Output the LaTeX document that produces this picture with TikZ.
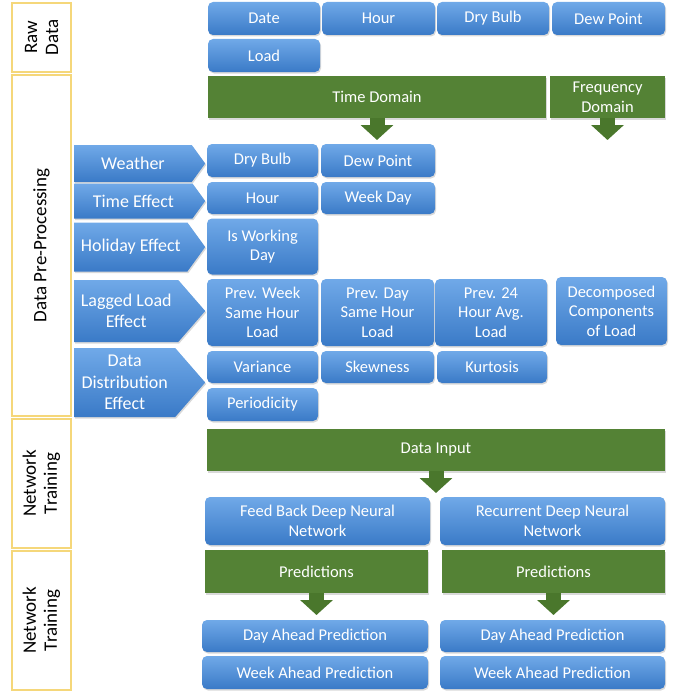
\documentclass[tikz,border=0pt]{standalone}
\usepackage{fontspec}
\setmainfont{Carlito}
\usetikzlibrary{shapes.symbols,arrows.meta,shadows,positioning}
\definecolor{boxtop}{HTML}{70A9E8}
\definecolor{boxbot}{HTML}{3A7AC7}
\definecolor{bargreen}{HTML}{548235}
\definecolor{arrowgreen}{HTML}{4A772C}
\definecolor{panelline}{HTML}{F5D77A}

\begin{document}
\begin{tikzpicture}[x=1pt, y=-1pt]
    \tikzstyle{panel} = [rectangle, draw=panelline, line width=1.2pt, fill=white, rotate=90, align=center, inner sep=0pt, font=\fontsize{19}{21}\selectfont]
    \tikzstyle{field} = [rectangle, rounded corners=5pt, top color=boxtop, bottom color=boxbot, draw=none, text=white, align=center, inner sep=0pt, drop shadow={shadow xshift=1pt, shadow yshift=-1.5pt, opacity=0.3}, font=\fontsize{16.5}{19.5}\selectfont]
    \tikzstyle{effect} = [signal, signal to=east, signal pointer angle=108, top color=boxtop, bottom color=boxbot, draw=none, text=white, align=center, inner sep=0pt, anchor=west, minimum width=131pt, drop shadow={shadow xshift=1pt, shadow yshift=-1.5pt, opacity=0.3}, font=\fontsize{18}{21.5}\selectfont]
    \tikzstyle{bar} = [rectangle, fill=bargreen, text=white, align=center, inner sep=0pt, minimum height=42pt, drop shadow={shadow xshift=1pt, shadow yshift=-1.5pt, opacity=0.3}, font=\fontsize{16.5}{20}\selectfont]
    \tikzstyle{blockarrow} = [arrowgreen, line width=15pt, -{Triangle[width=32pt, length=15pt]}]

    \useasboundingbox (0,0) rectangle (680,693);

    % Stages
    \node [panel, minimum width=69pt, minimum height=59pt] (rawpanel) at (41.5,37.5) {Raw\\Data};
    \node [panel, minimum width=341pt, minimum height=59pt] (prepanel) at (41.5,245.5) {Data Pre-Processing};
    \node [panel, minimum width=129pt, minimum height=59pt] (trainpanel) at (41.5,483.5) {Network\\Training};
    \node [panel, minimum width=139pt, minimum height=59pt] (predpanel) at (41.5,620.5) {Network\\Training};

    % Raw data
    \node [field, minimum width=112pt, minimum height=33pt] (date) at (264,18.5) {Date};
    \node [field, minimum width=113pt, minimum height=33pt] (hour) at (378.5,18.5) {Hour};
    \node [field, minimum width=112pt, minimum height=33pt] (drybulb) at (493,18.5) {Dry Bulb};
    \node [field, minimum width=113pt, minimum height=33pt] (dewpoint) at (608.5,18.5) {Dew Point};
    \node [field, minimum width=112pt, minimum height=33pt] (load) at (264,55.5) {Load};

    % Domains
    \node [bar, minimum width=338pt] (timedom) at (377,97) {Time Domain};
    \node [bar, minimum width=115pt] (freqdom) at (607.5,97) {Frequency\\Domain};
    \coordinate (timetip) at (377,140);
    \coordinate (freqtip) at (607.5,140);

    % Effects
    \node [effect, minimum height=37pt] (weather) at (74,163.5) {Weather};
    \node [effect, minimum height=35pt] (timeeff) at (74,201) {Time Effect};
    \node [effect, minimum height=49pt] (holiday) at (74,247) {Holiday Effect};
    \node [effect, minimum height=62pt, signal pointer angle=98] (lagged) at (74,311) {Lagged Load\\Effect};
    \node [effect, minimum height=69pt, signal pointer angle=98] (distrib) at (74,382.5) {Data\\Distribution\\Effect};

    % Features
    \node [field, minimum width=111pt, minimum height=33pt] (wdrybulb) at (262.5,160.5) {Dry Bulb};
    \node [field, minimum width=114pt, minimum height=33pt] (wdewpoint) at (378,160.5) {Dew Point};
    \node [field, minimum width=111pt, minimum height=32pt] (thour) at (262.5,198) {Hour};
    \node [field, minimum width=114pt, minimum height=32pt] (tweekday) at (378,198) {Week Day};
    \node [field, minimum width=111pt, minimum height=56pt] (hworking) at (262.5,246.5) {Is Working\\Day};
    \node [field, minimum width=111pt, minimum height=67pt] (lprevweek) at (262.5,312.5) {Prev. Week\\Same Hour\\Load};
    \node [field, minimum width=113pt, minimum height=67pt] (lprevday) at (377.5,312.5) {Prev. Day\\Same Hour\\Load};
    \node [field, minimum width=112pt, minimum height=67pt] (lprevavg) at (491,312.5) {Prev. 24\\Hour Avg.\\Load};
    \node [field, minimum width=111pt, minimum height=68pt] (ldecomp) at (611.5,311) {Decomposed\\Components\\of Load};
    \node [field, minimum width=111pt, minimum height=32pt] (dvariance) at (262.5,367) {Variance};
    \node [field, minimum width=113pt, minimum height=32pt] (dskewness) at (377.5,367) {Skewness};
    \node [field, minimum width=110pt, minimum height=32pt] (dkurtosis) at (492,367) {Kurtosis};
    \node [field, minimum width=111pt, minimum height=33pt] (dperiodicity) at (262.5,404.5) {Periodicity};

    % Training
    \node [bar, minimum width=458pt] (datainput) at (436,450) {Data Input};
    \coordinate (inputtip) at (436,493);
    \node [field, minimum width=225pt, minimum height=48pt] (ffdnn) at (317.5,521) {Feed Back Deep Neural\\Network};
    \node [field, minimum width=225pt, minimum height=48pt] (rdnn) at (552.5,521) {Recurrent Deep Neural\\Network};

    % Predictions
    \node [bar, minimum width=223pt, minimum height=43pt] (predleft) at (316.5,571.5) {Predictions};
    \node [bar, minimum width=223pt, minimum height=43pt] (predright) at (553.5,571.5) {Predictions};
    \coordinate (lefttip) at (316.5,615);
    \coordinate (righttip) at (553.5,615);
    \node [field, minimum width=226pt, minimum height=32pt] (dayleft) at (315,636) {Day Ahead Prediction};
    \node [field, minimum width=226pt, minimum height=33pt] (weekleft) at (315,672.5) {Week Ahead Prediction};
    \node [field, minimum width=225pt, minimum height=32pt] (dayright) at (552.5,636) {Day Ahead Prediction};
    \node [field, minimum width=225pt, minimum height=33pt] (weekright) at (552.5,672.5) {Week Ahead Prediction};

    % Arrows
    \draw [blockarrow] (timedom.south) -- (timetip);
    \draw [blockarrow] (freqdom.south) -- (freqtip);
    \draw [blockarrow] (datainput.south) -- (inputtip);
    \draw [blockarrow] (predleft.south) -- (lefttip);
    \draw [blockarrow] (predright.south) -- (righttip);
\end{tikzpicture}
\end{document}
